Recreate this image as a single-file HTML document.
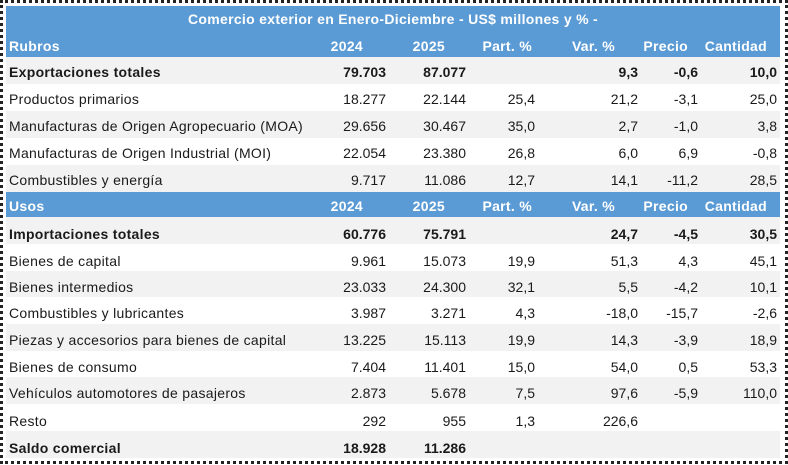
<!DOCTYPE html>
<html><head><meta charset="utf-8"><style>
body{margin:0;width:788px;height:464px;background:#fff;position:relative;overflow:hidden;font-family:"Liberation Sans",Arial,sans-serif;font-size:14px;color:#1a1a1a}
.b{position:absolute;left:0;top:0;width:782px;height:458px;border:3px dotted #222;box-sizing:content-box}
.r{position:absolute;left:6px;width:774px;}
.r span{position:absolute;top:0;white-space:nowrap}
.h{background:#5b9bd5;color:#fff;font-weight:bold}
.g{background:#f2f2f2}
.w{background:#fff}
.bo{font-weight:bold}
.c0{left:3px;letter-spacing:0.3px}
.c1{right:394px}.c2{right:314px}.c3{right:245px}.c4{right:142px}.c5{right:82px}.c6{right:3px}
.h .c1{right:417px}.h .c2{right:335px}.h .c3{right:248px}.h .c4{right:165px}.h .c5{right:92px}.h .c6{right:13px}
.h span{letter-spacing:0.3px}
</style></head><body>
<div class="b"></div>
<div class="r h" style="top:6px;height:27px;line-height:27px;text-align:center;letter-spacing:0.3px">Comercio exterior en Enero-Diciembre - US$ millones y % -</div>
<div class="r h" style="top:33px;height:24px;line-height:26px"><span class="c0">Rubros</span><span class="c1">2024</span><span class="c2">2025</span><span class="c3">Part. %</span><span class="c4">Var. %</span><span class="c5">Precio</span><span class="c6">Cantidad</span></div>
<div class="r g bo" style="top:57px;height:27px;line-height:31px"><span class="c0">Exportaciones totales</span><span class="c1">79.703</span><span class="c2">87.077</span><span class="c4">9,3</span><span class="c5">-0,6</span><span class="c6">10,0</span></div>
<div class="r w" style="top:84px;height:27px;line-height:31px"><span class="c0">Productos primarios</span><span class="c1">18.277</span><span class="c2">22.144</span><span class="c3">25,4</span><span class="c4">21,2</span><span class="c5">-3,1</span><span class="c6">25,0</span></div>
<div class="r g" style="top:111px;height:27px;line-height:31px"><span class="c0">Manufacturas de Origen Agropecuario (MOA)</span><span class="c1">29.656</span><span class="c2">30.467</span><span class="c3">35,0</span><span class="c4">2,7</span><span class="c5">-1,0</span><span class="c6">3,8</span></div>
<div class="r w" style="top:138px;height:27px;line-height:31px"><span class="c0">Manufacturas de Origen Industrial (MOI)</span><span class="c1">22.054</span><span class="c2">23.380</span><span class="c3">26,8</span><span class="c4">6,0</span><span class="c5">6,9</span><span class="c6">-0,8</span></div>
<div class="r g" style="top:165px;height:27px;line-height:31px"><span class="c0">Combustibles y energía</span><span class="c1">9.717</span><span class="c2">11.086</span><span class="c3">12,7</span><span class="c4">14,1</span><span class="c5">-11,2</span><span class="c6">28,5</span></div>
<div class="r h" style="top:192px;height:25px;line-height:28px"><span class="c0">Usos</span><span class="c1">2024</span><span class="c2">2025</span><span class="c3">Part. %</span><span class="c4">Var. %</span><span class="c5">Precio</span><span class="c6">Cantidad</span></div>
<div class="r g bo" style="top:217px;height:27px;line-height:34px"><span class="c0">Importaciones totales</span><span class="c1">60.776</span><span class="c2">75.791</span><span class="c4">24,7</span><span class="c5">-4,5</span><span class="c6">30,5</span></div>
<div class="r w" style="top:244px;height:27px;line-height:34px"><span class="c0">Bienes de capital</span><span class="c1">9.961</span><span class="c2">15.073</span><span class="c3">19,9</span><span class="c4">51,3</span><span class="c5">4,3</span><span class="c6">45,1</span></div>
<div class="r g" style="top:271px;height:26px;line-height:32px"><span class="c0">Bienes intermedios</span><span class="c1">23.033</span><span class="c2">24.300</span><span class="c3">32,1</span><span class="c4">5,5</span><span class="c5">-4,2</span><span class="c6">10,1</span></div>
<div class="r w" style="top:297px;height:27px;line-height:32px"><span class="c0">Combustibles y lubricantes</span><span class="c1">3.987</span><span class="c2">3.271</span><span class="c3">4,3</span><span class="c4">-18,0</span><span class="c5">-15,7</span><span class="c6">-2,6</span></div>
<div class="r g" style="top:324px;height:27px;line-height:32px"><span class="c0">Piezas y accesorios para bienes de capital</span><span class="c1">13.225</span><span class="c2">15.113</span><span class="c3">19,9</span><span class="c4">14,3</span><span class="c5">-3,9</span><span class="c6">18,9</span></div>
<div class="r w" style="top:351px;height:26px;line-height:32px"><span class="c0">Bienes de consumo</span><span class="c1">7.404</span><span class="c2">11.401</span><span class="c3">15,0</span><span class="c4">54,0</span><span class="c5">0,5</span><span class="c6">53,3</span></div>
<div class="r g" style="top:377px;height:27px;line-height:32px"><span class="c0">Vehículos automotores de pasajeros</span><span class="c1">2.873</span><span class="c2">5.678</span><span class="c3">7,5</span><span class="c4">97,6</span><span class="c5">-5,9</span><span class="c6">110,0</span></div>
<div class="r w" style="top:404px;height:27px;line-height:34px"><span class="c0">Resto</span><span class="c1">292</span><span class="c2">955</span><span class="c3">1,3</span><span class="c4">226,6</span></div>
<div class="r g bo" style="top:431px;height:27px;line-height:34px"><span class="c0">Saldo comercial</span><span class="c1">18.928</span><span class="c2">11.286</span></div>
</body></html>
